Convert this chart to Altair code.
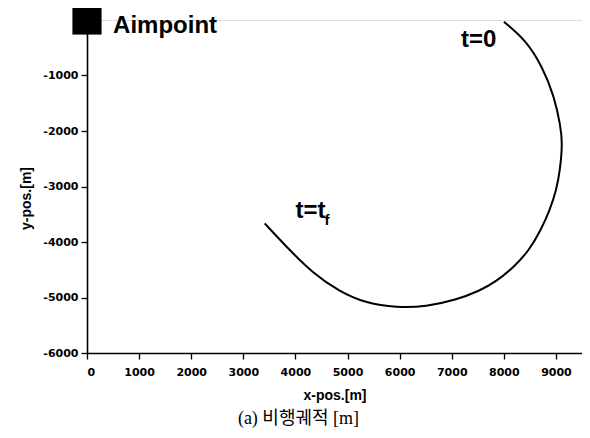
import altair as alt
import pandas as pd

# Trajectory
traj_x = [8000, 8420, 8740, 8970, 9090, 9125, 9080, 9010, 8885, 8710, 8490, 8200,
          7850, 7540, 7080, 6510, 5935, 5360, 4850, 4335, 3825, 3410]
traj_y = [-30, -360, -840, -1380, -1920, -2220, -2700, -3060, -3420, -3785, -4145, -4445,
          -4715, -4877, -5045, -5165, -5180, -5105, -4895, -4565, -4085, -3665]

# Aimpoint
aim_x = [0]
aim_y = [0]

# Annotations
ann_text = ["Aimpoint", "t=0", "t=t"]
ann_x = [500, 7180, 4000]
ann_y = [-235, -480, -3560]
sub_text = ["f"]
sub_x = [4560]
sub_y = [-3690]

x_ticks = list(range(0, 9501, 500))
y_ticks = list(range(-6000, 1, 500))

traj = pd.DataFrame({"x": traj_x, "y": traj_y, "i": list(range(len(traj_x)))})
aim = pd.DataFrame({"x": aim_x, "y": aim_y})
ann = pd.DataFrame({"x": ann_x, "y": ann_y, "t": ann_text})
sub = pd.DataFrame({"x": sub_x, "y": sub_y, "t": sub_text})

xscale = alt.Scale(domain=[0, 9500], nice=False, zero=False)
yscale = alt.Scale(domain=[-6000, 0], nice=False, zero=False)

tick_size = {"condition": {"test": "datum.value % 1000 !== 0", "value": 3}, "value": 6}

xaxis = alt.Axis(
    values=x_ticks, format="d", grid=False,
    labelExpr="datum.value % 1000 === 0 ? replace(datum.label, '\u2212', '-') : ''",
    title="x-pos.[m]", tickSize=tick_size,
    labelFont="DejaVu Sans", labelFontWeight="bold", labelFontSize=11, labelColor="black",
    labelPadding=7,
    titleFont="Liberation Sans", titleFontWeight="bold", titleFontSize=14, titleColor="black",
    titlePadding=11,
    domainColor="black", domainWidth=1.6, tickColor="black", tickWidth=1.3,
)
yaxis = alt.Axis(
    values=y_ticks, format="d", grid=False,
    labelExpr="(datum.value % 1000 === 0 && datum.value !== 0) ? replace(datum.label, '\u2212', '-') : ''",
    title="y-pos.[m]", tickSize=tick_size,
    labelFont="DejaVu Sans", labelFontWeight="bold", labelFontSize=11, labelColor="black",
    labelPadding=3,
    titleFont="Liberation Sans", titleFontWeight="bold", titleFontSize=14, titleColor="black",
    titlePadding=9, titleY=178,
    domainColor="black", domainWidth=1.6, tickColor="black", tickWidth=1.3,
)

line = alt.Chart(traj).mark_line(color="black", strokeWidth=2, interpolate="basis").encode(
    x=alt.X("x:Q", scale=xscale, axis=xaxis),
    y=alt.Y("y:Q", scale=yscale, axis=yaxis),
    order="i:O",
)

square = alt.Chart(aim).mark_square(color="black", opacity=1, size=850, filled=True).encode(
    x="x:Q", y="y:Q"
)

labels = alt.Chart(ann).mark_text(
    align="left", baseline="alphabetic", font="Liberation Sans", fontSize=24,
    fontWeight="bold", color="black"
).encode(x="x:Q", y="y:Q", text="t:N")

sublabel = alt.Chart(sub).mark_text(
    align="left", baseline="alphabetic", font="Liberation Sans", fontSize=15,
    fontWeight="bold", color="black"
).encode(x="x:Q", y="y:Q", text="t:N")

chart = alt.layer(line, square, labels, sublabel).properties(
    width=495, height=333,
    padding={"left": 79, "top": 12, "right": 0, "bottom": 77},
    autosize=alt.AutoSizeParams(type="none"),
    title=alt.TitleParams(
        "(a) 비행궤적 [m]", orient="bottom", anchor="middle", offset=8, dx=-36,
        font="Liberation Serif, Noto Sans CJK KR", fontSize=18, fontWeight="normal", color="black",
    ),
).configure_view(stroke=None).configure(background="white")

chart.save("out.html", embed_options={"renderer": "svg", "actions": False})
